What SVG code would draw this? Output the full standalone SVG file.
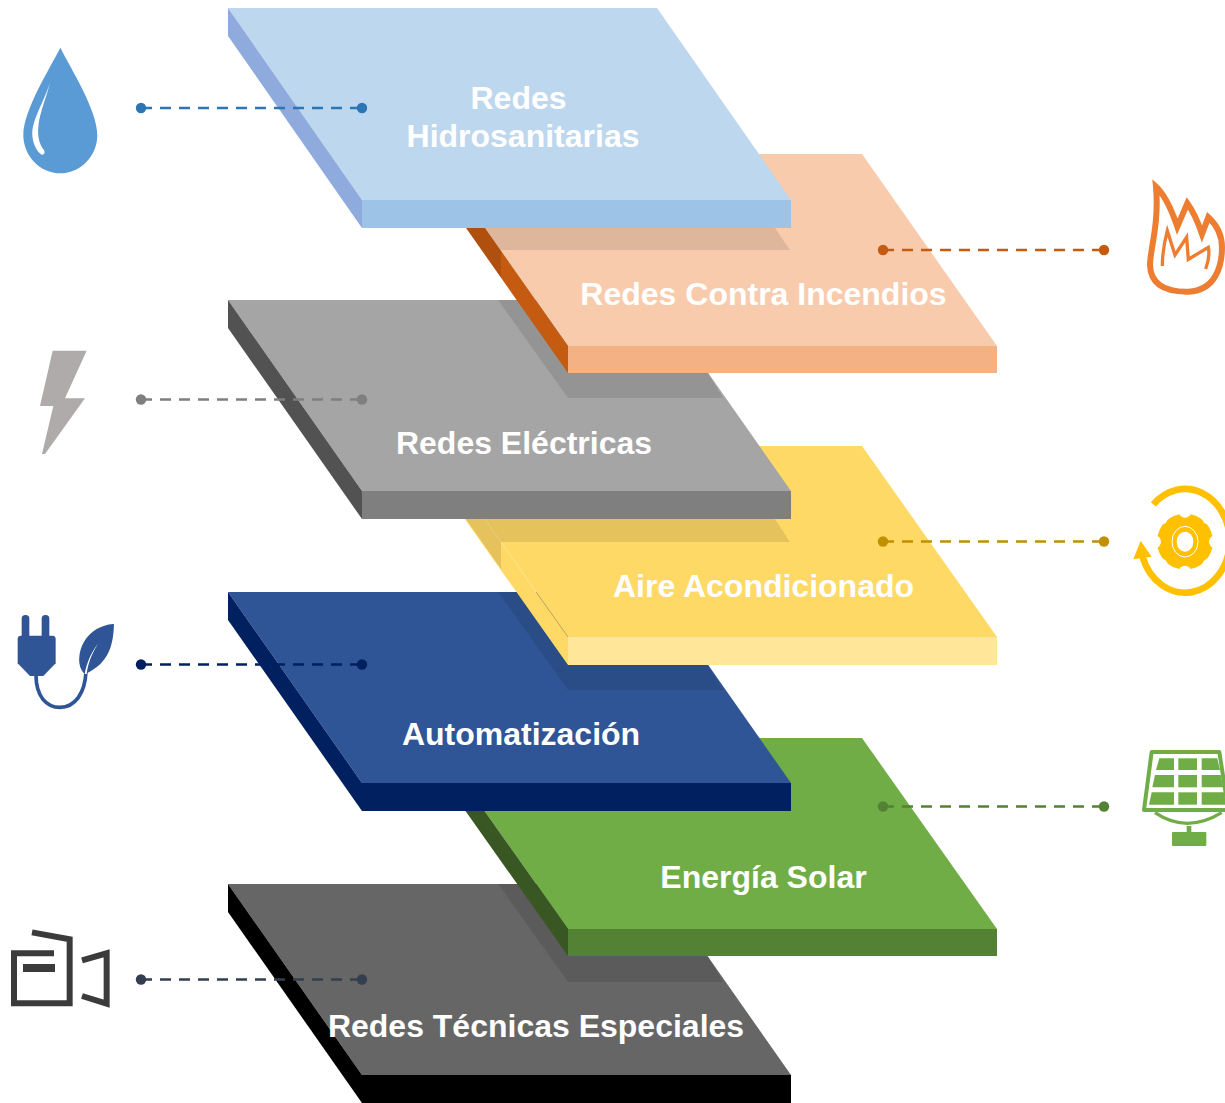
<svg xmlns="http://www.w3.org/2000/svg" width="1225" height="1103" viewBox="0 0 1225 1103">
<style>
text{font-family:"Liberation Sans",Arial,sans-serif;font-weight:700;font-size:32px;fill:#fff;text-anchor:middle}
.sh{fill:#000;fill-opacity:.1}
.dash{fill:none;stroke-width:2.7;stroke-dasharray:11 8}
</style>
<rect width="1225" height="1103" fill="#fff"/>

<g id="node-tecnicas">
<polygon points="228,884 657,884 791,1075 362,1075" fill="#666"/>
<polygon points="228,884 362,1075 362,1103 228,912" fill="#000"/>
<rect x="362" y="1075" width="429" height="28" fill="#000"/>
<polygon class="sh" points="498,884 568,982 723,982 708,956 568,884"/>
<text x="536" y="1037">Redes Técnicas Especiales</text>
<g transform="translate(0 920) scale(.3333)">
<g fill="none" stroke="#3b3b3b" stroke-width="18" stroke-miterlimit="10">
<path d="M162,100H42V250H209V58L96,37"/>
<path d="M246,121L320,100V251L246,228"/>
</g>
<rect x="69" y="132" width="96" height="24" fill="#3b3b3b"/>
</g>
</g>

<g id="node-solar">
<polygon points="433,738 862,738 997,929 568,929" fill="#70ad47"/>
<polygon points="433,738 568,929 568,956 433,765" fill="#385723"/>
<rect x="568" y="929" width="429" height="27" fill="#548235"/>
<text x="763.500" y="888">Energía Solar</text>
<g transform="translate(1100 730) scale(.3333)">
<path d="M155,66H358L385,240H132Z" fill="none" stroke="#70ad47" stroke-width="12" stroke-linejoin="round"/>
<g fill="#70ad47">
<polygon points="178,85 222,85 222,120 168,120"/><rect x="235" y="85" width="56" height="35"/><polygon points="305,85 352,85 360,120 305,120"/>
<polygon points="165,135 222,135 222,172 157,172"/><rect x="235" y="135" width="56" height="37"/><polygon points="305,135 362,135 370,172 305,172"/>
<polygon points="155,187 222,187 222,224 147,224"/><rect x="235" y="187" width="56" height="37"/><polygon points="305,187 372,187 378,224 305,224"/>
<rect x="260" y="288" width="14" height="22"/><rect x="216" y="306" width="103" height="42" rx="3"/>
</g>
<path d="M165,248Q260,312 365,248" fill="none" stroke="#70ad47" stroke-width="10"/>
</g>
</g>

<g id="node-automatizacion">
<polygon points="228,592 657,592 791,783 362,783" fill="#2f5597"/>
<polygon points="228,592 362,783 362,811 228,620" fill="#002060"/>
<rect x="362" y="783" width="429" height="28" fill="#002060"/>
<polygon class="sh" points="498,592 568,690 723,690 708,665 568,592"/>
<text x="521" y="745">Automatización</text>
<g transform="translate(0 600) scale(.3333)" fill="#2f5597">
<rect x="65" y="45" width="23" height="80" rx="11"/><rect x="125" y="45" width="23" height="80" rx="11"/>
<path d="M62,107H158Q167,107 167,118V190L130,228H90L53,190V118Q53,107 62,107Z"/>
<path d="M108,225C108,290 140,322 180,322C225,322 255,280 258,215" fill="none" stroke="#2f5597" stroke-width="11"/>
<path d="M342,72C290,75 245,110 238,170C235,195 245,215 255,222C330,190 340,130 342,72Z"/>
<path d="M295,130C272,160 260,190 254,222L260,222C264,190 276,160 295,130Z" fill="#fff"/>
</g>
</g>

<g id="node-aire">
<polygon points="433,446 862,446 997,637 568,637" fill="#ffd966"/>
<polygon points="433,446 568,637 568,665 433,474" fill="#ffd966"/>
<rect x="568" y="637" width="429" height="28" fill="#ffe699"/>
<path d="M485,519L536,592" stroke="#ffe699" stroke-width=".7" fill="none"/>
<path d="M536,592L568,637" stroke="#b8a060" stroke-width=".7" fill="none"/>
<polygon class="sh" points="466,519 775,519 790,542 501,542 501,569"/>
<text x="763.500" y="597">Aire Acondicionado</text>
<g transform="translate(1100 470) scale(.3333)">
<circle cx="255" cy="215" r="84" fill="#ffc000"/>
<g fill="#fff">
<circle cx="255" cy="124" r="19"/><circle cx="322" cy="148" r="14"/><circle cx="346" cy="215" r="19"/><circle cx="322" cy="282" r="14"/>
<circle cx="255" cy="306" r="19"/><circle cx="188" cy="282" r="14"/><circle cx="164" cy="215" r="19"/><circle cx="188" cy="148" r="14"/>
</g>
<ellipse cx="255" cy="215" rx="39" ry="46" fill="#ffc000" stroke="#fff" stroke-width="3"/>
<ellipse cx="255" cy="215" rx="25" ry="30" fill="#fff"/>
<path d="M160,103A135,160 0 0 1 390,215A135,160 0 0 1 128,262" fill="none" stroke="#ffc000" stroke-width="20"/>
<polygon points="122,212 100,268 155,260" fill="#ffc000"/>
</g>
</g>

<g id="node-electricas">
<polygon points="228,300 657,300 791,491 362,491" fill="#a5a5a5"/>
<polygon points="228,300 362,491 362,519 228,328" fill="#525252"/>
<rect x="362" y="491" width="429" height="28" fill="#7f7f7f"/>
<polygon class="sh" points="498,300 568,398 723,398 708,373 568,300"/>
<text x="524" y="454">Redes Eléctricas</text>
<polygon transform="translate(20 340) scale(.3333)" points="98,32 200,32 135,175 195,175 75,342 66,342 100,198 60,198" fill="#afabab"/>
</g>

<g id="node-incendios">
<polygon points="433,154 862,154 997,346 568,346" fill="#f8cbad"/>
<polygon points="433,154 568,346 568,373 433,181" fill="#c55a11"/>
<rect x="568" y="346" width="429" height="27" fill="#f4b183"/>
<polygon class="sh" points="466,228 775,228 790,250 501,250 501,278"/>
<text x="763.500" y="305">Redes Contra Incendios</text>
<g transform="translate(1100 160) scale(.3333)" fill="none" stroke="#ed7d31">
<path d="M168,80C190,100 210,135 232,200L262,130C280,155 295,190 306,222L325,172C350,195 366,225 366,262C366,320 345,392 265,395C205,396 152,380 150,315C150,270 178,190 168,80Z" stroke-width="18" stroke-miterlimit="6"/>
<path d="M187,318C187,290 192,250 202,212L225,285L260,232L265,298L325,262C330,285 325,305 317,327" stroke-width="10"/>
</g>
</g>

<g id="node-hidrosanitarias">
<polygon points="228,8 657,8 791,200 362,200" fill="#bdd7ee"/>
<polygon points="228,8 362,200 362,228 228,36" fill="#8faadc"/>
<rect x="362" y="200" width="429" height="28" fill="#9dc3e6"/>
<text x="518.500" y="109">Redes</text>
<text x="523" y="147">Hidrosanitarias</text>
<g transform="scale(.3333)">
<path d="M181,143C150,205 70,330 70,405C70,468 120,520 181,520C242,520 292,468 292,405C292,330 212,205 181,143Z" fill="#5b9bd5"/>
<path d="M150,248C130,310 95,360 97,405C98,430 110,455 125,464C135,465 136,455 130,448C118,430 112,410 115,380C118,340 140,290 150,248Z" fill="#fff"/>
</g>
</g>

<g id="connectors">
<g fill="#2e75b6"><path class="dash" stroke="#2e75b6" d="M141,108H362"/><circle cx="141" cy="108" r="5.200"/><circle cx="362" cy="108" r="5.200"/></g>
<g fill="#c55a11"><path class="dash" stroke="#c55a11" d="M883,250H1104"/><circle cx="883" cy="250" r="5.200"/><circle cx="1104" cy="250" r="5.200"/></g>
<g fill="#7f7f7f"><path class="dash" stroke="#7f7f7f" d="M141,399.500H362"/><circle cx="141" cy="399.500" r="5.200"/><circle cx="362" cy="399.500" r="5.200"/></g>
<g fill="#bf9000"><path class="dash" stroke="#bf9000" d="M883,541.500H1104"/><circle cx="883" cy="541.500" r="5.200"/><circle cx="1104" cy="541.500" r="5.200"/></g>
<g fill="#002060"><path class="dash" stroke="#002060" d="M141,664.500H362"/><circle cx="141" cy="664.500" r="5.200"/><circle cx="362" cy="664.500" r="5.200"/></g>
<g fill="#548235"><path class="dash" stroke="#548235" d="M883,806.500H1104"/><circle cx="883" cy="806.500" r="5.200"/><circle cx="1104" cy="806.500" r="5.200"/></g>
<g fill="#333f50"><path class="dash" stroke="#333f50" d="M141,979.500H362"/><circle cx="141" cy="979.500" r="5.200"/><circle cx="362" cy="979.500" r="5.200"/></g>
</g>
</svg>
